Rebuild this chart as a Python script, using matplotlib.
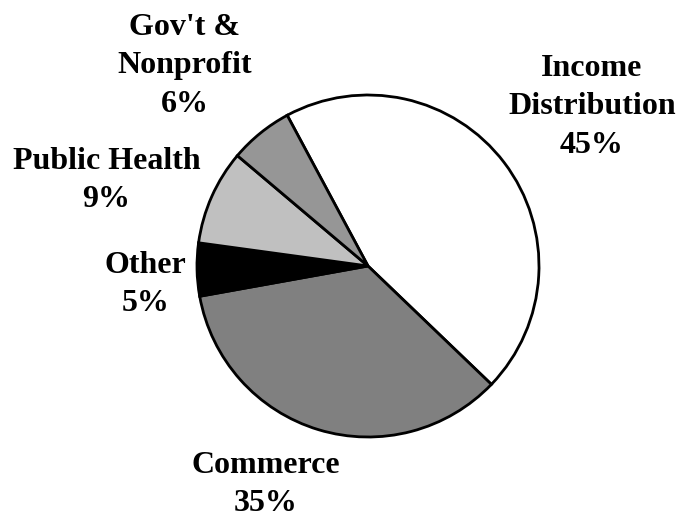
import matplotlib
matplotlib.use("Agg")
import matplotlib.pyplot as plt

categories = ["Income\nDistribution", "Commerce", "Other", "Public Health", "Gov't &\nNonprofit"]
shares = [45, 35, 5, 9, 6]
colors = ["#ffffff", "#808080", "#000000", "#c0c0c0", "#969696"]

# label centres, in pie radius units (layout only)
label_pos = [(1.31, 0.93), (-0.60, -1.28), (-1.30, -0.11), (-1.53, 0.50), (-1.07, 1.17)]

plt.rcParams["font.family"] = ["Liberation Serif", "DejaVu Serif"]

W, H = 678, 518
fig = plt.figure(figsize=(W / 100, H / 100), dpi=100)
cx, cy, r = 368, 266, 171
ax = fig.add_axes([(cx - r) / W, (H - cy - r) / H, 2 * r / W, 2 * r / H])

ax.pie(shares, colors=colors, startangle=118.2, counterclock=False,
       wedgeprops=dict(edgecolor="black", linewidth=2))
ax.set_xlim(-1, 1)
ax.set_ylim(-1, 1)
ax.set_aspect("equal")

for name, val, (x, y) in zip(categories, shares, label_pos):
    ax.text(x, y, f"{name}\n{val}%", ha="center", va="center",
            fontsize=23, fontweight="bold", linespacing=1.42, clip_on=False)

fig.savefig("out.png", dpi=100)
